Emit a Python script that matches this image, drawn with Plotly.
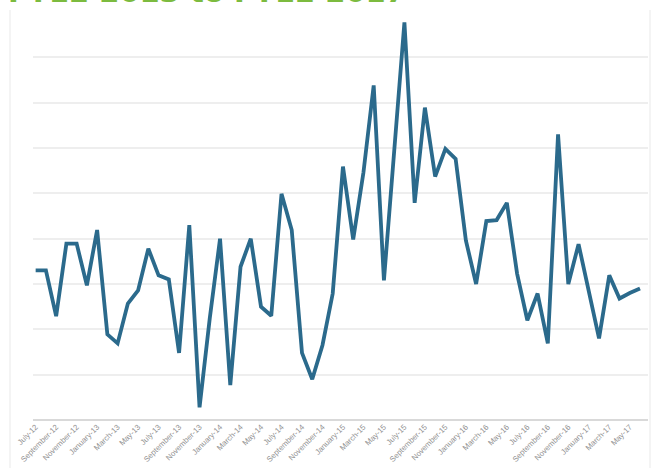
import plotly.graph_objects as go

title_text = "FY12 2013 to FY12 2017"

months = [
    "July-12", "August-12", "September-12", "October-12", "November-12", "December-12",
    "January-13", "February-13", "March-13", "April-13", "May-13", "June-13",
    "July-13", "August-13", "September-13", "October-13", "November-13", "December-13",
    "January-14", "February-14", "March-14", "April-14", "May-14", "June-14",
    "July-14", "August-14", "September-14", "October-14", "November-14", "December-14",
    "January-15", "February-15", "March-15", "April-15", "May-15", "June-15",
    "July-15", "August-15", "September-15", "October-15", "November-15", "December-15",
    "January-16", "February-16", "March-16", "April-16", "May-16", "June-16",
    "July-16", "August-16", "September-16", "October-16", "November-16", "December-16",
    "January-17", "February-17", "March-17", "April-17", "May-17", "June-17",
]

values = [
    33.0, 33.0, 22.9, 38.9, 38.9, 29.7,
    41.9, 18.9, 16.9, 25.7, 28.6, 37.8,
    31.9, 31.0, 14.8, 43.0, 2.8, 22.5,
    40.0, 7.7, 33.8, 40.0, 25.0, 23.0,
    49.9, 41.9, 14.8, 9.0, 16.5, 27.9,
    55.9, 39.8, 54.6, 73.8, 30.8, 59.5,
    87.7, 47.9, 68.9, 53.7, 59.8, 57.6,
    39.6, 30.0, 43.9, 44.1, 47.9, 32.3,
    22.0, 27.9, 16.9, 63.0, 30.0, 38.8,
    28.3, 18.0, 31.9, 26.8, 28.0, 29.0,
]

idx = list(range(len(months)))
tick_idx = idx[::2]
tick_text = months[::2]

fig = go.Figure()
fig.add_trace(go.Scatter(
    x=idx, y=values, mode="lines",
    line=dict(color="#2b6a8c", width=3.8),
    hoverinfo="skip",
))

W, H = 662, 470
ml, mr, mt, mb = 33, 14, 12, 50
plot_h = H - mt - mb
plot_w = W - ml - mr

fig.update_layout(
    width=W, height=H,
    margin=dict(l=ml, r=mr, t=mt, b=mb, pad=0, autoexpand=False),
    paper_bgcolor="white", plot_bgcolor="white",
    showlegend=False,
    font=dict(family="Liberation Sans, Arial, sans-serif"),
    xaxis=dict(
        range=[-0.26, 59.78], automargin=False,
        tickmode="array", tickvals=tick_idx, ticktext=tick_text,
        tickangle=-45, tickfont=dict(size=7.8, color="#8f8f8f"),
        showgrid=False, zeroline=False, showline=False, ticks="",
    ),
    yaxis=dict(
        range=[0, 90], dtick=10, automargin=False,
        showticklabels=False, ticks="",
        showgrid=True, gridcolor="#eeeeee", gridwidth=1.5,
        zeroline=True, zerolinecolor="#d9d9d9", zerolinewidth=1.5,
        showline=False,
    ),
    annotations=[dict(
        text="<b>" + title_text + "</b>",
        xref="paper", yref="paper",
        x=-(ml - 6) / plot_w, xanchor="left",
        y=1 + 0.5 / plot_h, yanchor="bottom",
        showarrow=False,
        font=dict(size=29, color="#7cbb3f", family="DejaVu Sans, sans-serif"),
    )],
    shapes=[
        dict(type="line", xref="paper", yref="paper",
             x0=-23 / plot_w, x1=-23 / plot_w,
             y0=1 + (mt - 10) / plot_h, y1=-(mb - 2) / plot_h,
             line=dict(color="#f1f1f1", width=1.5)),
        dict(type="line", xref="paper", yref="paper",
             x0=1 + 2 / plot_w, x1=1 + 2 / plot_w,
             y0=1 + (mt - 10) / plot_h, y1=-(mb - 2) / plot_h,
             line=dict(color="#f1f1f1", width=1.5)),
    ],
)

fig.write_html(
    "out.html",
    config={"displayModeBar": False},
    post_script="document.body.style.margin='0';document.body.style.overflow='hidden';",
)
